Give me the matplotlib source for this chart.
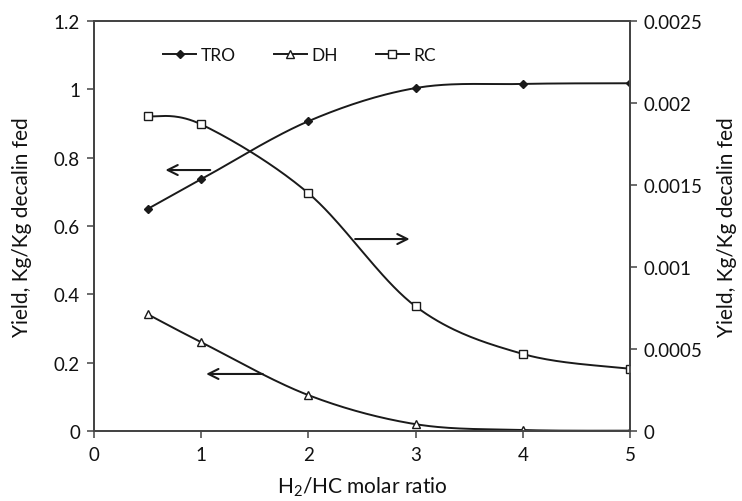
import numpy as np
import matplotlib.pyplot as plt

# H2/HC molar ratio and product yields (kg/kg decalin fed)
ratio = [0.5, 1, 2, 3, 4, 5]
tro = [0.65, 0.737, 0.907, 1.004, 1.016, 1.018]
dh = [0.342, 0.26, 0.105, 0.02, 0.003, 0.001]
rc = [0.00192, 0.00187, 0.00145, 0.00076, 0.00047, 0.00038]

plt.rcParams['font.family'] = ['Lato', 'DejaVu Sans']
plt.rcParams['mathtext.fontset'] = 'custom'
plt.rcParams['mathtext.rm'] = 'Lato'
plt.rcParams['mathtext.it'] = 'Lato:italic'


def smooth(x, y, n=40):
    """Catmull-Rom style smoothing through every point (like spreadsheet smoothed lines)."""
    x = np.asarray(x, float)
    y = np.asarray(y, float)
    px = np.concatenate([[x[0]], x, [x[-1]]])
    py = np.concatenate([[y[0]], y, [y[-1]]])
    xs, ys = [], []
    t = np.linspace(0, 1, n)
    for i in range(1, len(px) - 2):
        p0 = np.array([px[i], py[i]])
        p3 = np.array([px[i + 1], py[i + 1]])
        p1 = p0 + (np.array([px[i + 1], py[i + 1]]) - np.array([px[i - 1], py[i - 1]])) / 6
        p2 = p3 - (np.array([px[i + 2], py[i + 2]]) - np.array([px[i], py[i]])) / 6
        b = ((1 - t) ** 3)[:, None] * p0 + (3 * (1 - t) ** 2 * t)[:, None] * p1 \
            + (3 * (1 - t) * t ** 2)[:, None] * p2 + (t ** 3)[:, None] * p3
        xs.extend(b[:, 0])
        ys.extend(b[:, 1])
    return xs, ys


col = '#1a1a1a'
txt = '#111111'
fig = plt.figure(figsize=(7.42, 5.02), dpi=100)
ax = fig.add_axes([0.1267, 0.1394, 0.7224, 0.8166])
ax2 = ax.twinx()

for y, m, fc, a in [(tro, 'D', col, ax), (dh, '^', 'white', ax), (rc, 's', 'white', ax2)]:
    sx, sy = smooth(ratio, y)
    a.plot(sx, sy, color=col, lw=1.4)
    a.plot(ratio, y, ls='none', marker=m, ms=6 if m != 'D' else 4.5, mfc=fc, mec=col, mew=1)

# legend handles
handles = [plt.Line2D([], [], color=col, lw=1.4, marker='D', ms=4.5, mfc=col, mec=col),
           plt.Line2D([], [], color=col, lw=1.4, marker='^', ms=6, mfc='white', mec=col),
           plt.Line2D([], [], color=col, lw=1.4, marker='s', ms=6, mfc='white', mec=col)]
ax2.legend(handles, ['TRO', 'DH', 'RC'], ncol=3, frameon=False, loc='upper left',
           bbox_to_anchor=(0.1, 0.975), fontsize=12.5, handlelength=1.9,
           columnspacing=2.2, handletextpad=0.25, labelcolor=txt)

# arrows pointing to the relevant axis
arr = dict(arrowstyle='->', color=col, lw=1.5, mutation_scale=18)
ax.annotate('', xy=(0.64, 0.764), xytext=(1.11, 0.764), arrowprops=arr)
ax.annotate('', xy=(1.02, 0.167), xytext=(1.6, 0.167), arrowprops=arr)
ax.annotate('', xy=(2.97, 0.562), xytext=(2.41, 0.562), arrowprops=arr)

ax.set_xlim(0, 5)
ax.set_ylim(0, 1.2)
ax2.set_ylim(0, 0.0025)
ax.set_xticks(range(6))
ax.set_yticks([0, 0.2, 0.4, 0.6, 0.8, 1, 1.2])
ax.set_yticklabels(['0', '0.2', '0.4', '0.6', '0.8', '1', '1.2'])
ax2.set_yticks([0, 0.0005, 0.001, 0.0015, 0.002, 0.0025])
ax2.set_yticklabels(['0', '0.0005', '0.001', '0.0015', '0.002', '0.0025'])

for a in (ax, ax2):
    a.tick_params(labelsize=13.5, colors='#444444', labelcolor=txt, length=5,
                  width=1.1, direction='out', pad=5)
    for s in a.spines.values():
        s.set_color('#444444')
        s.set_linewidth(1.3)
ax.tick_params(axis='x', pad=6)

ax.set_xlabel(r'H$_2$/HC molar ratio', fontsize=15, labelpad=8, color=txt)
ax.set_ylabel('Yield, Kg/Kg decalin fed', fontsize=15, labelpad=16, color=txt)
ax2.set_ylabel('Yield, Kg/Kg decalin fed', fontsize=15, labelpad=10, color=txt)

fig.savefig('out.png', dpi=100)
